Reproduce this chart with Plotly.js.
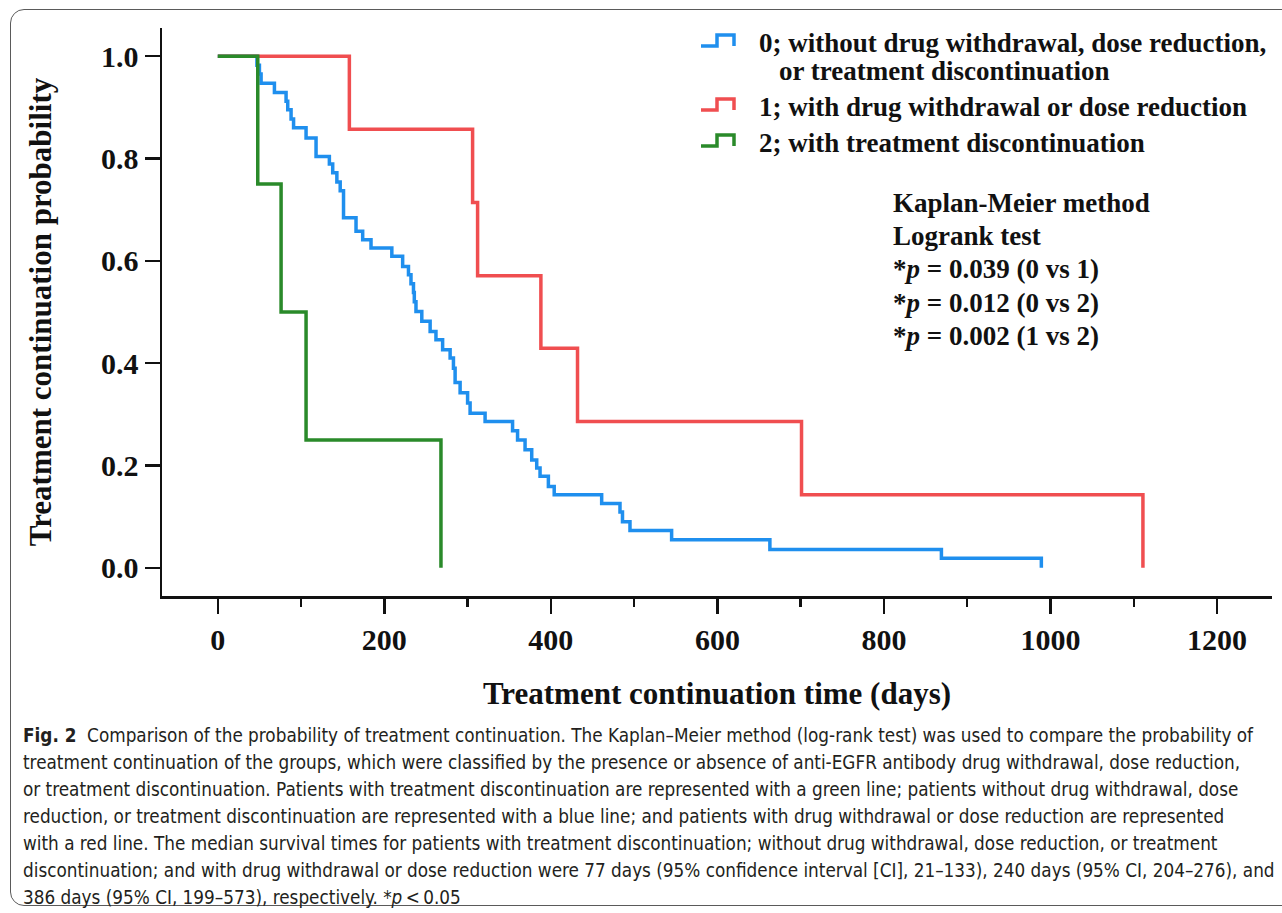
<!DOCTYPE html>
<html><head><meta charset="utf-8">
<script src="https://cdn.plot.ly/plotly-3.0.1.min.js"></script>
<style>
html,body{margin:0;padding:0;background:#fff;overflow:hidden;width:1282px;height:913px;}
#frame{position:absolute;left:10px;top:9px;width:1300px;height:897px;border:1.5px solid #5a5a5a;border-radius:14px;box-sizing:border-box;}
#chart{position:absolute;left:0;top:0;width:1282px;height:913px;}
</style></head><body>
<div id="frame"></div>
<div id="chart"></div>
<script>
// ---------- data ----------
const groupNames = [
  "0; without drug withdrawal, dose reduction,<br>or treatment discontinuation",
  "1; with drug withdrawal or dose reduction",
  "2; with treatment discontinuation"
];
const days0 = [0,47,50,52,68,82,84,88,91,106,118,134,138,143,147,151,166,174,184,209,222,229,232,235,236,238,245,255,262,270,279,283,285,291,300,303,321,354,360,369,377,383,387,397,404,461,483,486,495,545,663,869,989];
const prob0 = [1,0.982,0.965,0.947,0.929,0.912,0.895,0.877,0.860,0.840,0.804,0.789,0.772,0.754,0.737,0.684,0.658,0.641,0.625,0.609,0.589,0.573,0.555,0.538,0.520,0.501,0.482,0.462,0.446,0.426,0.410,0.390,0.362,0.342,0.322,0.302,0.286,0.268,0.250,0.231,0.211,0.195,0.179,0.159,0.143,0.126,0.109,0.090,0.073,0.055,0.036,0.019,0];
const days1 = [0,158,306,312,388,432,701,1111];
const prob1 = [1,0.857,0.714,0.571,0.429,0.286,0.143,0];
const days2 = [0,48,76,106,268];
const prob2 = [1,0.75,0.5,0.25,0];
const statsLines = [
  "Kaplan-Meier method",
  "Logrank test",
  "*<i>p</i> = 0.039 (0 vs 1)",
  "*<i>p</i> = 0.012 (0 vs 2)",
  "*<i>p</i> = 0.002 (1 vs 2)"
];
const captionLines = [
  "<b>Fig. 2</b>\u00A0\u00A0Comparison of the probability of treatment continuation. The Kaplan–Meier method (log-rank test) was used to compare the probability of",
  "treatment continuation of the groups, which were classified by the presence or absence of anti-EGFR antibody drug withdrawal, dose reduction,",
  "or treatment discontinuation. Patients with treatment discontinuation are represented with a green line; patients without drug withdrawal, dose",
  "reduction, or treatment discontinuation are represented with a blue line; and patients with drug withdrawal or dose reduction are represented",
  "with a red line. The median survival times for patients with treatment discontinuation; without drug withdrawal, dose reduction, or treatment",
  "discontinuation; and with drug withdrawal or dose reduction were 77 days (95% confidence interval [CI], 21–133), 240 days (95% CI, 204–276), and",
  "386 days (95% CI, 199–573), respectively. *<i>p</i>\u2009&lt;\u20090.05"
];
const xTitle = "Treatment continuation time (days)";
const yTitle = "Treatment continuation probability";

// ---------- styling / layout ----------
const colors = ['#1f8fee', '#f04e50', '#2a8a2a'];
const SERIF = '"Liberation Serif", "Times New Roman", serif';
const ctx = document.createElement('canvas').getContext('2d');
function hasFont(name) {
  const s = 'abcdefghijklmnopqrstuvwxyzABCDEFGHIJ 0123456789';
  return ['monospace', 'serif'].every(fb => {
    ctx.font = '72px ' + fb; const a = ctx.measureText(s).width;
    ctx.font = '72px "' + name + '", ' + fb; const b = ctx.measureText(s).width;
    return a !== b;
  });
}
const sansCandidates = ['Liberation Sans Narrow', 'DejaVu Sans Condensed', 'Roboto Condensed', 'Open Sans Condensed', 'Liberation Sans'];
const sansPick = sansCandidates.find(hasFont) || 'Liberation Sans';
const SANS = '"' + sansPick + '", "Liberation Sans", sans-serif';

const L = 162, R = 1272, T = 28, B = 596;
const W = R - L, H = B - T;
const px = v => (v - L) / W;
const py = v => (B - v) / H;

// fit caption font so that no line is wider than the reference text block
function fitSize(lines, target) {
  let best = 100;
  lines.forEach(t => {
    const plain = t.replace(/<[^>]+>/g, '').replace('&lt;', '<');
    ctx.font = '100px ' + SANS;
    best = Math.min(best, 100 * target / ctx.measureText(plain).width);
  });
  return best;
}
const capSize = fitSize(captionLines, 1252);

const mk = (x, y, i) => ({
  x: x, y: y, type: 'scatter', mode: 'lines', name: groupNames[i],
  line: {shape: 'hv', color: colors[i], width: 3.5}, hoverinfo: 'skip', showlegend: false
});
const data = [mk(days0, prob0, 0), mk(days1, prob1, 1), mk(days2, prob2, 2)];

const annotations = [];
const shapes = [];
const boldSerif = (size) => ({family: SERIF, size: size, weight: 'bold', color: '#111'});

// legend drawn as step-shaped keys with labels
const legendRows = [43, 107, 143];
groupNames.forEach((nm, i) => {
  const c = legendRows[i];
  const x0 = px(701), x1 = px(717), x2 = px(734);
  const yl = py(c + 3), yh = py(c - 8);
  shapes.push({type: 'path', xref: 'paper', yref: 'paper',
    path: `M${x0},${yl} L${x1},${yl} L${x1},${yh} L${x2},${yh} L${x2},${yl}`,
    line: {color: colors[i], width: 3.5}});
  nm.split('<br>').forEach((part, j) => annotations.push({
    xref: 'paper', yref: 'paper', x: px(j === 0 ? 757 : 777), y: py(c + j * 28),
    xanchor: 'left', yanchor: 'middle', showarrow: false, text: part,
    font: boldSerif(27)
  }));
});

statsLines.forEach((s, i) => annotations.push({
  xref: 'paper', yref: 'paper', x: px(891), y: py(203 + i * 33.2),
  xanchor: 'left', yanchor: 'middle', showarrow: false, text: s,
  font: boldSerif(27)
}));
captionLines.forEach((s, i) => annotations.push({
  xref: 'paper', yref: 'paper', x: px(21), y: py(735 + i * 27.1),
  xanchor: 'left', yanchor: 'middle', showarrow: false, text: s, align: 'left',
  font: {family: SANS, size: capSize, color: '#231f20'}
}));

const axisCommon = {
  showgrid: false, zeroline: false, showline: true, linecolor: '#111', linewidth: 2.5,
  ticks: 'outside', ticklen: 15, tickwidth: 2.5, tickcolor: '#111',
  tickfont: boldSerif(30),
  automargin: false
};
const layout = {
  width: 1282, height: 913,
  margin: {l: L, r: 1282 - R, t: T, b: 913 - B, pad: 0},
  paper_bgcolor: 'rgba(0,0,0,0)', plot_bgcolor: 'rgba(0,0,0,0)',
  showlegend: false,
  xaxis: Object.assign({}, axisCommon, {
    range: [-67, 1266], tick0: 0, dtick: 200,
    minor: {dtick: 100, ticks: 'outside', ticklen: 8, tickwidth: 2.5, tickcolor: '#111'},
    title: {text: xTitle, standoff: 28, font: boldSerif(31)}
  }),
  yaxis: Object.assign({}, axisCommon, {
    range: [-0.055, 1.055], tick0: 0, dtick: 0.2, tickformat: '.1f',
    title: {text: yTitle, standoff: 40, font: boldSerif(31)}
  }),
  shapes: shapes,
  annotations: annotations
};
Plotly.newPlot('chart', data, layout, {displayModeBar: false, staticPlot: true});
</script>
</body></html>
